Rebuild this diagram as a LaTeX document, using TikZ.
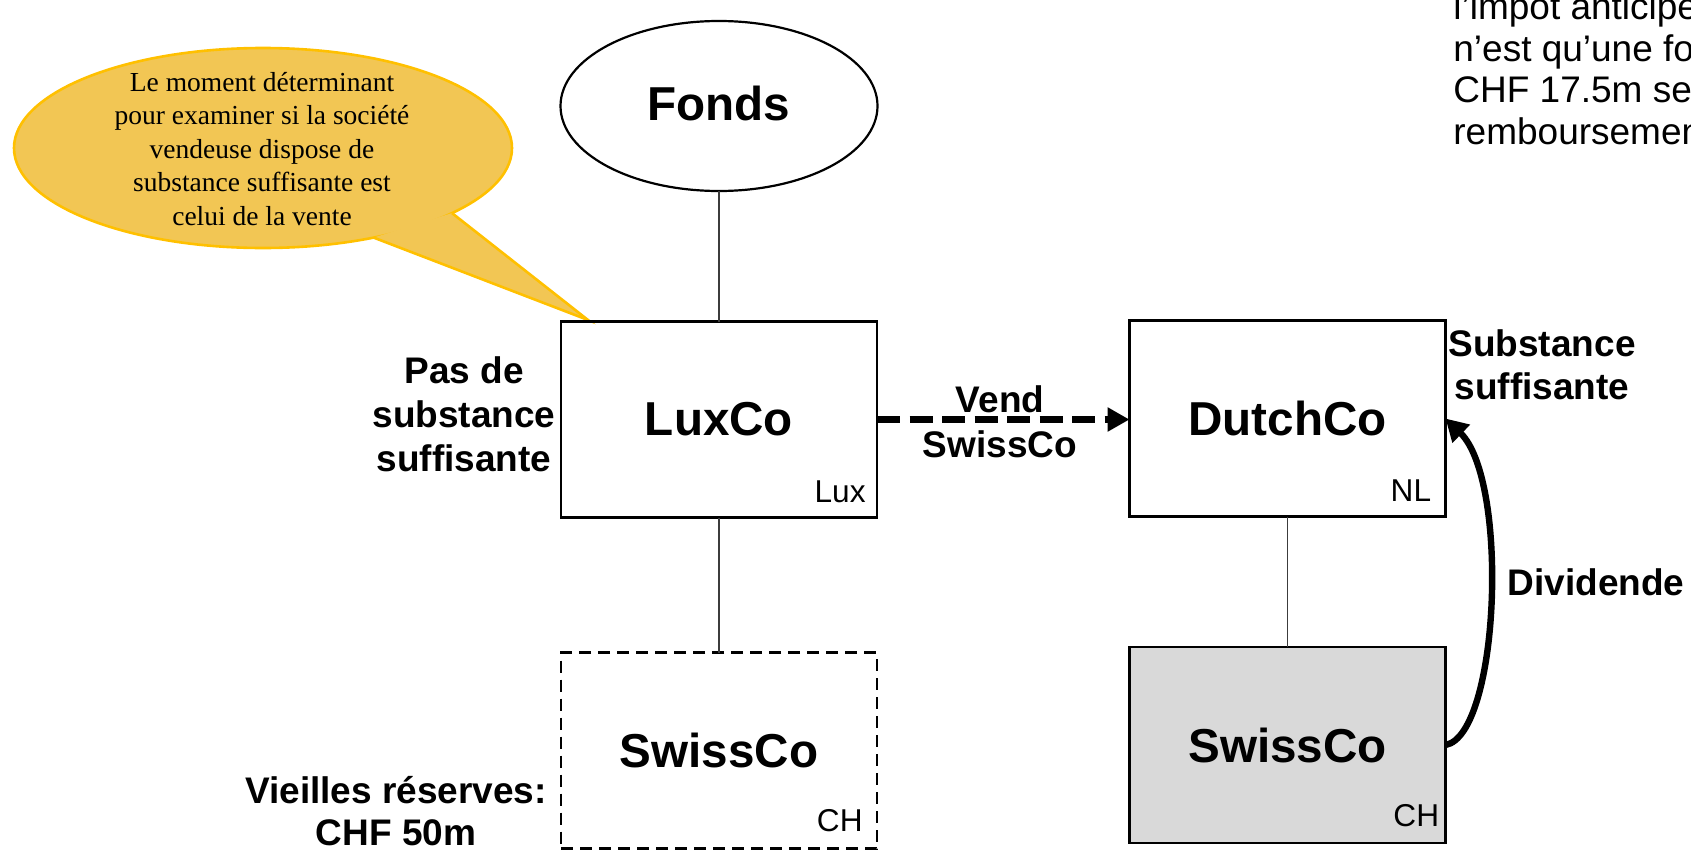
\documentclass[tikz,border=0pt]{standalone}
\usepackage{fontspec}
\setmainfont{Liberation Sans}
\newfontfamily\callfont{Liberation Serif}
\usetikzlibrary{shapes.geometric,arrows.meta}
\definecolor{bubblefill}{RGB}{242,198,84}
\definecolor{bubbleedge}{RGB}{255,192,0}
\definecolor{subsgray}{RGB}{217,217,217}
\definecolor{linkgray}{RGB}{60,60,60}
\begin{document}
\begin{tikzpicture}[x=0.5pt,y=-0.5pt,
  entity/.style={draw=black, line width=1.3pt, rectangle, minimum width=158pt,
    minimum height=98pt, inner sep=0pt, outer sep=0pt,
    font=\fontsize{23.8}{28}\selectfont\bfseries},
  oldsub/.style={entity, dash pattern=on 6pt off 3.5pt},
  newsub/.style={entity, fill=subsgray},
  fund/.style={draw=black, line width=1.1pt, ellipse, minimum width=158.5pt,
    minimum height=85pt, inner sep=0pt, outer sep=0pt,
    font=\fontsize{23.8}{28}\selectfont\bfseries},
  sidelabel/.style={align=center, inner sep=0pt,
    font=\fontsize{18.5}{22}\selectfont\bfseries},
  countrytag/.style={anchor=base east, inner sep=0pt,
    font=\fontsize{15.8}{19}\selectfont},
  link/.style={draw=linkgray, line width=0.65pt},
  sale/.style={line width=3.35pt, dash pattern=on 11.5pt off 4.75pt,
    -{Triangle[length=11pt,width=11.5pt]}},
  payout/.style={line width=3.2pt, -{Triangle[length=11pt,width=12pt]}},
  bubble/.style={ellipse, fill=bubblefill, draw=bubbleedge, line width=1.3pt,
    minimum width=249pt, minimum height=100pt, inner sep=0pt, outer sep=0pt}
]
\useasboundingbox (0,0) rectangle (1691,851);

% speech bubble with its pointer
\node[bubble] (bubble) at (263,148) {};
\coordinate (tip) at (588,320);
\fill[bubblefill] (bubble.-39.6) -- (tip) -- (bubble.-19.3) -- cycle;
\draw[bubbleedge, line width=1.3pt, line join=miter]
  (bubble.-39.6) -- (tip) -- (bubble.-19.3);
\node[align=center, inner sep=0pt,
  font=\callfont\fontsize{13.75}{16.75}\selectfont] (bubbletext) at (262,149)
  {Le moment déterminant\\pour examiner si la société\\vendeuse dispose de\\substance suffisante est\\celui de la vente};

% entities
\node[fund] (fonds) at (719,106) {\raisebox{2.7pt}{Fonds}};
\node[entity] (luxco) at (719,419.5) {\raisebox{-2pt}{LuxCo}};
\node[oldsub] (swissold) at (719,750.5) {\raisebox{-1pt}{SwissCo}};
\node[entity] (dutchco) at (1287.5,418.5) {\raisebox{-1pt}{DutchCo}};
\node[newsub] (swissnew) at (1287.5,745) {\raisebox{-1pt}{SwissCo}};

% country tags
\node[countrytag] (luxtag) at ([xshift=-5.5pt,yshift=7.5pt]luxco.south east) {Lux};
\node[countrytag] (chold) at ([xshift=-7pt,yshift=8.5pt]swissold.south east) {CH};
\node[countrytag] (nltag) at ([xshift=-7pt,yshift=7.5pt]dutchco.south east) {NL};
\node[countrytag] (chnew) at ([xshift=-3pt,yshift=8.5pt]swissnew.south east) {CH};

% ownership links
\draw[link] (fonds.south) -- (luxco.north);
\draw[link] (luxco.south) -- (swissold.north);
\draw[link] (dutchco.south) -- (swissnew.north);

% sale of SwissCo
\draw[sale] (luxco.east) -- (dutchco.west |- luxco.east);
\node[sidelabel, font=\fontsize{18.5}{22.5}\selectfont\bfseries] (vend) at (1000,422) {Vend\\SwissCo};

% dividend
\draw[payout] (swissnew.east) .. controls +(54,-10) and +(64,62) .. (dutchco.east);
\node[sidelabel] (dividende) at (1596,582) {Dividende};

% side remarks
\node[sidelabel] (passub) at (464,414) {Pas de\\substance\\suffisante};
\node[sidelabel, font=\fontsize{18.5}{21.5}\selectfont\bfseries] (subst) at (1542,365) {Substance\\suffisante};
\node[sidelabel, font=\fontsize{18.5}{21}\selectfont\bfseries] (reserves) at (396,811) {Vieilles réserves:\\CHF 50m};

% note at the top right (runs past the right edge)
\node[anchor=base west, align=left, inner sep=0pt,
  font=\fontsize{18.5}{20.75}\selectfont] (note) at (1453,144)
  {l’impôt anticipé\\n’est qu’une formalité\\CHF 17.5m seront\\remboursement};
\end{tikzpicture}
\end{document}
